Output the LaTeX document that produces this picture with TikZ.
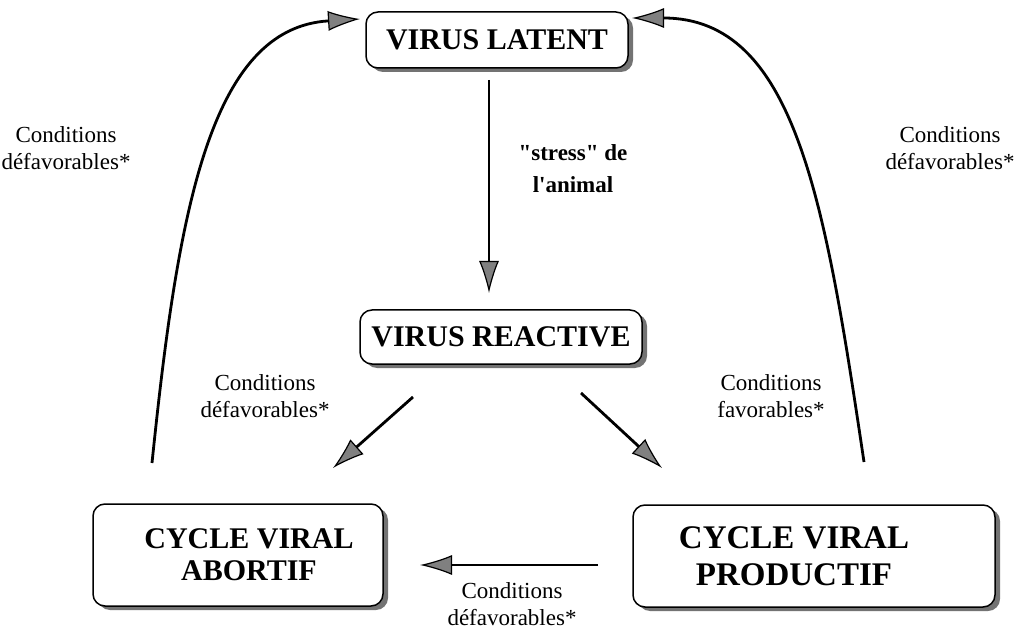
\documentclass[tikz,border=0pt]{standalone}
\usepackage{fontspec}
\setmainfont{Liberation Serif}[Ligatures=TeXOff]
\usetikzlibrary{arrows.meta,shadows}
\begin{document}
\begin{tikzpicture}[x=1pt,y=-1pt,
  box/.style={draw, line width=1.5pt, rounded corners=12pt, fill=white,
    drop shadow={shadow xshift=5pt, shadow yshift=-4pt, fill=black!55, opacity=1},
    font=\fontsize{30}{32}\selectfont\bfseries, align=center, inner sep=0pt},
  lbl/.style={font=\fontsize{23}{27}\selectfont, align=center, inner sep=0pt},
  arr/.style={line width=2.8pt, -{Latex[length=32pt,width=20pt,fill=black!50,line width=1.2pt]}},
]
\useasboundingbox (0,0) rectangle (1020,636);

\node[box, minimum width=262pt, minimum height=56pt] (latent) at (497,40) {VIRUS LATENT};
\node[box, minimum width=282pt, minimum height=54pt] (reactive) at (501,337) {VIRUS REACTIVE};
\node[box, minimum width=290pt, minimum height=102pt] (abortif) at (238,555) {\hspace*{22pt}CYCLE VIRAL\\\hspace*{22pt}ABORTIF};
\node[box, minimum width=362pt, minimum height=102pt, font=\fontsize{33}{37}\selectfont\bfseries] (productif) at (814,556) {\hspace*{-40pt}CYCLE VIRAL\\\hspace*{-40pt}PRODUCTIF};

\coordinate (v1) at (489,80);
\coordinate (v2) at (489,293);
\coordinate (dl1) at (413,397);
\coordinate (dl2) at (333,468);
\coordinate (dr1) at (581,393);
\coordinate (dr2) at (662,468);
\coordinate (b1) at (598,565);
\coordinate (b2) at (420,565);
\coordinate (lc1) at (152,463);
\coordinate (lc2) at (360,19);
\coordinate (rc1) at (864,462);
\coordinate (rc2) at (632,18);

\draw[arr] (v1) -- (v2);
\draw[arr] (dl1) -- (dl2);
\draw[arr] (dr1) -- (dr2);
\draw[arr] (b1) -- (b2);
\draw[arr] (lc1) .. controls (178,210) and (210,28) .. (lc2);
\draw[arr] (rc1) .. controls (825,200) and (795,18) .. (rc2);

\node[lbl, font=\fontsize{23}{32}\selectfont\bfseries] (stress) at (573,169) {"stress" de\\l'animal};
\node[lbl] (cl) at (66,148) {Conditions\\défavorables*};
\node[lbl] (cr) at (950,148) {Conditions\\défavorables*};
\node[lbl] (cml) at (265,396) {Conditions\\défavorables*};
\node[lbl] (cmr) at (771,396) {Conditions\\favorables*};
\node[lbl] (cb) at (512,604) {Conditions\\défavorables*};
\end{tikzpicture}
\end{document}
